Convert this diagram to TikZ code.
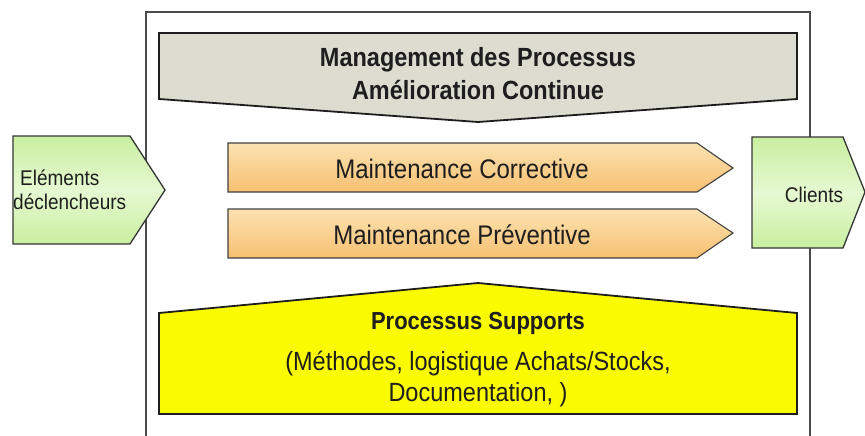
\documentclass[tikz,border=0pt]{standalone}
\usepackage{graphicx}
\usepackage{fontspec}
\setmainfont{Liberation Sans}
\definecolor{mgtfill}{HTML}{DCDCD0}
\definecolor{suppfill}{HTML}{FAFA00}
\definecolor{maintop}{HTML}{FCE2B2}
\definecolor{mainbot}{HTML}{F6C070}
\definecolor{ioedge}{HTML}{C9EFA0}
\definecolor{iomid}{HTML}{E6F9D2}
\definecolor{ink}{HTML}{1E1E1E}
% slightly stretched lettering
\newcommand\stretchtxt[1]{\scalebox{1}[1.12]{#1}}
\tikzset{
  x=1pt, y=-1pt,
  frameline/.style={draw=ink!80, line width=1.3pt},
  bigshape/.style={draw=ink, line width=1.8pt, line join=miter},
  flowarrow/.style={draw=ink!85, line width=1.1pt, top color=maintop, bottom color=mainbot},
  iobox/.style={draw=ink!90, line width=1.3pt, top color=ioedge, bottom color=ioedge, middle color=iomid},
  lbl/.style={text=ink, inner sep=0pt, font=\fontsize{23.5}{27}\selectfont},
  blbl/.style={lbl, font=\fontsize{23.5}{27}\selectfont\bfseries},
  slbl/.style={text=ink, inner sep=0pt, font=\fontsize{19}{22}\selectfont}
}
\begin{document}
\begin{tikzpicture}
\useasboundingbox (0,0) rectangle (865,436);

% outer frame, open at the bottom
\draw[frameline] (146,436) -- (146,12) -- (810,12) -- (810,436);

% management banner pointing down
\draw[bigshape, fill=mgtfill] (159,33) -- (797,33) -- (797,99) -- (478,122) -- (159,99) -- cycle;
\node[blbl] (mgt1) at (478,60) {\stretchtxt{Management des Processus}};
\node[blbl] (mgt2) at (478,90) {\stretchtxt{Amélioration Continue}};

% maintenance flows
\draw[flowarrow] (228,143) -- (697,143) -- (733,168) -- (697,192) -- (228,192) -- cycle;
\node[lbl, font=\fontsize{24}{28}\selectfont] (corr) at (462,169) {\stretchtxt{Maintenance Corrective}};
\draw[flowarrow] (228,209) -- (697,209) -- (733,233) -- (697,258) -- (228,258) -- cycle;
\node[lbl, font=\fontsize{24}{28}\selectfont] (prev) at (462,235) {\stretchtxt{Maintenance Préventive}};

% support processes roof
\draw[bigshape, fill=suppfill] (159,313) -- (478,283) -- (797,313) -- (797,414) -- (159,414) -- cycle;
\node[blbl, font=\fontsize{22}{26}\selectfont\bfseries] (sup1) at (478,323) {\stretchtxt{Processus Supports}};
\node[lbl] (sup2) at (478,364) {\stretchtxt{(Méthodes, logistique Achats/Stocks,}};
\node[lbl] (sup3) at (478,395) {\stretchtxt{Documentation, )}};

% inputs and outputs
\draw[iobox] (13,136) -- (130,136) -- (165,190) -- (130,244) -- (13,244) -- cycle;
\node[slbl, anchor=west] (in1) at (20,178) {\stretchtxt{Eléments}};
\node[slbl, anchor=west] (in2) at (13,202) {\stretchtxt{déclencheurs}};
\draw[iobox] (752,137) -- (843,137) -- (865,192) -- (843,248) -- (752,248) -- cycle;
\node[slbl] (out) at (814,195) {\stretchtxt{Clients}};
\end{tikzpicture}
\end{document}
